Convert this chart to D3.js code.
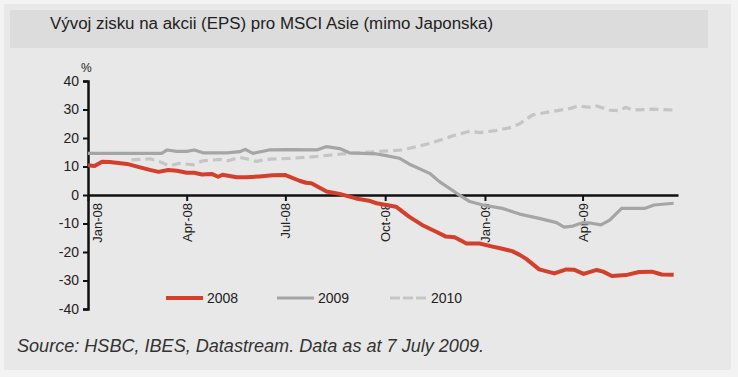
<!DOCTYPE html>
<html lang="cs">
<head>
<meta charset="UTF-8">
<title>EPS MSCI Asie</title>
<script src="https://d3js.org/d3.v7.min.js"></script>
<style>
  body { margin: 0; background: #f3f3f3; }
  svg { display: block; font-family: "Liberation Sans", Arial, sans-serif; }
</style>
</head>
<body>
<svg width="738" height="377" id="mainsvg"></svg>
<script>
// EPS growth forecasts (%)
const eps2008 = [
  ["2008-01-01", 10.4], ["2008-01-07", 10.2], ["2008-01-14", 11.7], ["2008-01-21", 11.6],
  ["2008-02-06", 10.9], ["2008-02-18", 9.7], ["2008-02-27", 8.8], ["2008-03-06", 8.1],
  ["2008-03-15", 8.8], ["2008-03-23", 8.5], ["2008-04-01", 7.8], ["2008-04-08", 7.8],
  ["2008-04-15", 7.2], ["2008-04-24", 7.4], ["2008-04-30", 6.4], ["2008-05-04", 7.1],
  ["2008-05-17", 6.2], ["2008-05-26", 6.2], ["2008-06-07", 6.5], ["2008-06-19", 6.9],
  ["2008-07-01", 7.0], ["2008-07-14", 5.0], ["2008-07-20", 4.3], ["2008-07-25", 4.1],
  ["2008-08-08", 1.2], ["2008-08-20", 0.4], ["2008-09-04", -1.2], ["2008-09-16", -2.0],
  ["2008-09-23", -2.9], ["2008-10-02", -3.5], ["2008-10-11", -4.1], ["2008-10-23", -7.6],
  ["2008-11-04", -10.5], ["2008-11-17", -12.9], ["2008-11-26", -14.6], ["2008-12-04", -14.8],
  ["2008-12-15", -17.0], ["2008-12-27", -17.0], ["2009-01-08", -18.1], ["2009-01-14", -18.6],
  ["2009-01-26", -19.7], ["2009-02-02", -21.0], ["2009-02-08", -22.4], ["2009-02-20", -26.1],
  ["2009-03-06", -27.5], ["2009-03-17", -26.1], ["2009-03-24", -26.2], ["2009-04-02", -27.7],
  ["2009-04-14", -26.3], ["2009-04-20", -26.9], ["2009-04-28", -28.4], ["2009-05-11", -28.1],
  ["2009-05-23", -27.0], ["2009-06-04", -26.9], ["2009-06-13", -27.9], ["2009-06-24", -28.0]
]
const eps2009 = [
  ["2008-01-01", 14.6], ["2008-03-09", 14.6], ["2008-03-14", 15.8], ["2008-03-23", 15.3],
  ["2008-04-01", 15.3], ["2008-04-08", 15.8], ["2008-04-16", 14.8], ["2008-05-08", 14.8],
  ["2008-05-20", 15.2], ["2008-05-25", 16.0], ["2008-06-01", 14.6], ["2008-06-16", 15.8],
  ["2008-07-05", 15.9], ["2008-07-30", 15.8], ["2008-08-08", 17.0], ["2008-08-20", 16.3],
  ["2008-08-29", 14.8], ["2008-09-23", 14.4], ["2008-10-02", 13.8], ["2008-10-14", 12.9],
  ["2008-10-23", 10.9], ["2008-11-11", 7.6], ["2008-11-20", 4.7], ["2008-12-06", 0.6],
  ["2008-12-18", -2.3], ["2008-12-30", -3.5], ["2009-01-17", -4.7], ["2009-02-02", -6.7],
  ["2009-02-20", -8.2], ["2009-03-08", -9.7], ["2009-03-15", -11.3], ["2009-03-23", -10.9],
  ["2009-04-01", -9.7], ["2009-04-09", -9.9], ["2009-04-18", -10.5], ["2009-04-26", -8.8],
  ["2009-05-07", -4.7], ["2009-05-28", -4.7], ["2009-06-06", -3.5], ["2009-06-24", -2.9]
]
const eps2010 = [
  ["2008-02-10", 12.3], ["2008-02-27", 12.7], ["2008-03-07", 11.7], ["2008-03-16", 10.2],
  ["2008-03-25", 11.1], ["2008-04-07", 10.6], ["2008-04-16", 12.0], ["2008-05-02", 12.5],
  ["2008-05-09", 12.0], ["2008-05-20", 13.2], ["2008-05-26", 12.7], ["2008-06-04", 11.8],
  ["2008-06-14", 12.5], ["2008-07-02", 12.8], ["2008-07-20", 13.2], ["2008-08-23", 14.4],
  ["2008-09-26", 15.3], ["2008-10-17", 15.8], ["2008-11-11", 18.1], ["2008-12-02", 20.7],
  ["2008-12-18", 22.4], ["2008-12-27", 21.9], ["2009-01-11", 22.6], ["2009-01-26", 23.8],
  ["2009-02-02", 25.0], ["2009-02-14", 28.1], ["2009-03-02", 29.2], ["2009-03-21", 30.4],
  ["2009-03-28", 31.2], ["2009-04-07", 30.8], ["2009-04-14", 31.2], ["2009-04-26", 29.8],
  ["2009-05-05", 29.6], ["2009-05-11", 30.8], ["2009-05-17", 29.8], ["2009-06-04", 30.1],
  ["2009-06-24", 29.8]
]
const seriesNames = ["2008", "2009", "2010"]
const xTickDates = ["2008-01-01", "2008-04-01", "2008-07-01", "2008-10-01", "2009-01-01", "2009-04-01"]
const yTicks = [40, 30, 20, 10, 0, -10, -20, -30, -40]

const parse = d3.timeParse("%Y-%m-%d")
const svg = d3.select("#mainsvg")

// background panels
svg.append("rect").attr("x", 4).attr("y", 4).attr("width", 727).attr("height", 366).attr("fill", "#e8e8e8")
svg.append("rect").attr("x", 10).attr("y", 10).attr("width", 698).attr("height", 38).attr("fill", "#dcdcdc")
svg.append("text").attr("x", 50).attr("y", 29).attr("font-size", 16).attr("fill", "#222")
  .attr("textLength", 443).attr("lengthAdjust", "spacingAndGlyphs")
  .text("Vývoj zisku na akcii (EPS) pro MSCI Asie (mimo Japonska)")

const xScale = d3.scaleTime()
  .domain([parse("2008-01-01"), parse("2009-06-28")])
  .range([88, 678])
const yScale = d3.scaleLinear().domain([40, -40]).range([81, 309])

// y axis
const yAxis = d3.axisLeft(yScale).tickValues(yTicks).tickFormat(d => String(d)).tickSize(5).tickPadding(4)
const gy = svg.append("g").attr("transform", "translate(88,0)").call(yAxis)
gy.select(".domain").attr("stroke", "#111").attr("stroke-width", 2.5)
gy.selectAll(".tick line").attr("stroke", "#111").attr("stroke-width", 2)
gy.selectAll(".tick text").attr("font-size", 14).attr("fill", "#222").attr("font-family", "Liberation Sans, Arial")
svg.append("text").attr("x", 81).attr("y", 72).attr("font-size", 12).attr("fill", "#222").text("%")

// x axis on zero line
const xAxis = d3.axisBottom(xScale)
  .tickValues(xTickDates.map(parse))
  .tickFormat(d3.timeFormat("%b-%y"))
  .tickSize(6).tickSizeOuter(0)
const gx = svg.append("g").attr("transform", `translate(0,${yScale(0)})`).call(xAxis)
gx.select(".domain").attr("stroke", "#111").attr("stroke-width", 2.5)
gx.selectAll(".tick line").attr("stroke", "#111").attr("stroke-width", 2)
gx.selectAll(".tick text")
  .attr("font-size", 13).attr("fill", "#222").attr("font-family", "Liberation Sans, Arial")
  .attr("text-anchor", "end")
  .attr("transform", "rotate(-90)")
  .attr("x", -8).attr("y", (d, i) => i === 0 ? 9 : 0).attr("dy", "0.35em")

// lines
const line = d3.line()
  .x(d => xScale(parse(d[0])))
  .y(d => yScale(d[1]))

const styles = [
  { data: eps2008, color: "#d43f2c", width: 4, dash: null },
  { data: eps2009, color: "#a5a5a5", width: 3.2, dash: null },
  { data: eps2010, color: "#c5c5c5", width: 3.2, dash: "9,5" }
]
// draw 2010 first, 2008 on top
;[2, 1, 0].forEach(i => {
  const s = styles[i]
  svg.append("path").datum(s.data)
    .attr("d", line)
    .attr("fill", "none")
    .attr("stroke", s.color)
    .attr("stroke-width", s.width)
    .attr("stroke-linejoin", "round")
    .attr("stroke-dasharray", s.dash)
})

// legend
const legendX = [166, 277, 390]
seriesNames.forEach((name, i) => {
  const s = styles[i]
  svg.append("line")
    .attr("x1", legendX[i]).attr("x2", legendX[i] + 37)
    .attr("y1", 298).attr("y2", 298)
    .attr("stroke", s.color).attr("stroke-width", s.width)
    .attr("stroke-dasharray", s.dash ? "10,3" : null)
  svg.append("text").attr("x", legendX[i] + 41).attr("y", 303)
    .attr("font-size", 14).attr("fill", "#222").text(name)
})

svg.append("text").attr("x", 17).attr("y", 352)
  .attr("font-size", 18).attr("font-style", "italic").attr("fill", "#333")
  .attr("textLength", 467).attr("lengthAdjust", "spacingAndGlyphs")
  .text("Source: HSBC, IBES, Datastream. Data as at 7 July 2009.")
</script>
</body>
</html>
